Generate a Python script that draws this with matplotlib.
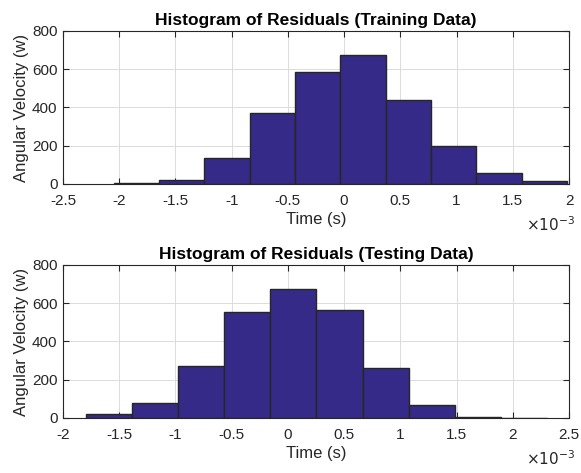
import matplotlib
matplotlib.use("Agg")
import matplotlib.pyplot as plt

plt.rcParams['font.family'] = ['Liberation Sans', 'DejaVu Sans']

# bin edges are in units of 1e-3 s
train_edges = [-2.049, -1.646, -1.243, -0.840, -0.437, -0.034, 0.369, 0.772, 1.175, 1.578, 1.981]
train_counts = [3, 23, 136, 372, 588, 676, 440, 200, 57, 14]

test_edges = [-1.795, -1.385, -0.975, -0.566, -0.156, 0.254, 0.664, 1.073, 1.483, 1.893, 2.303]
test_counts = [23, 78, 270, 556, 672, 564, 261, 66, 5, 2]

bar_color = '#352A87'
edge_color = '#262626'

fig = plt.figure(figsize=(5.81, 4.73), dpi=100)
ax1 = fig.add_axes([0.1084, 0.611, 0.871, 0.3235])
ax2 = fig.add_axes([0.1084, 0.1163, 0.871, 0.3235])

def draw_hist(ax, edges, counts, xlim, xticks, title):
    ax.hist(edges[:-1], bins=edges, weights=counts, color=bar_color,
            edgecolor=edge_color, linewidth=1.0, zorder=2)
    ax.set_xlim(*xlim)
    ax.set_ylim(0, 800)
    ax.set_xticks(xticks)
    ax.set_xticklabels(['%g' % t for t in xticks])
    ax.set_yticks([0, 200, 400, 600, 800])
    ax.grid(True, color='#dcdcdc', linewidth=0.7, zorder=0)
    ax.set_axisbelow(True)
    ax.tick_params(direction='in', top=True, right=True, labelsize=11,
                   colors='#262626', length=4)
    ax.tick_params(axis='x', pad=7)
    ax.tick_params(axis='y', pad=4)
    for s in ax.spines.values():
        s.set_color('#262626')
        s.set_linewidth(0.8)
    ax.set_title(title, fontsize=12.5, fontweight='bold', pad=4)
    ax.set_xlabel('Time (s)', fontsize=12, color='#262626', labelpad=3)
    ax.set_ylabel('Angular Velocity (w)', fontsize=12, color='#262626', labelpad=2)
    ax.text(1.012, -0.31, r'$\times10^{-3}$', transform=ax.transAxes,
            ha='right', va='baseline', fontsize=11, color='#262626')

draw_hist(ax1, train_edges, train_counts, (-2.5, 2.0),
          [-2.5, -2, -1.5, -1, -0.5, 0, 0.5, 1, 1.5, 2],
          'Histogram of Residuals (Training Data)')
draw_hist(ax2, test_edges, test_counts, (-2.0, 2.5),
          [-2, -1.5, -1, -0.5, 0, 0.5, 1, 1.5, 2, 2.5],
          'Histogram of Residuals (Testing Data)')

fig.savefig('out.png', dpi=100)
